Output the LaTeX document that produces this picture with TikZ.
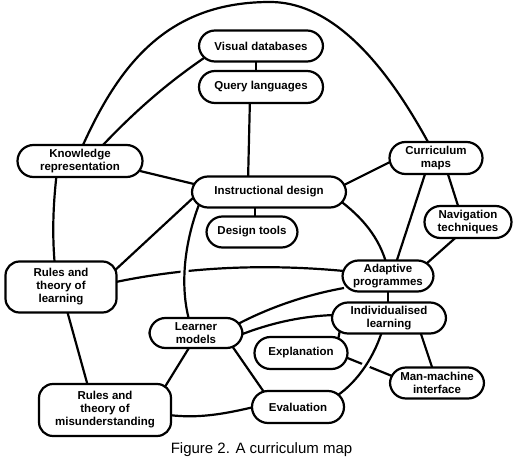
\documentclass[tikz,border=0pt]{standalone}
\usepackage{fontspec}
\setmainfont{Liberation Sans}
\usetikzlibrary{backgrounds,calc}
\begin{document}
\begin{tikzpicture}[x=1pt,y=-1pt,
  pill/.style={draw, line width=2.2pt, fill=white, rounded corners=16pt, inner sep=0pt, align=center,
    font=\fontsize{11.5}{13}\selectfont\bfseries},
  tallbox/.style={pill, rounded corners=14pt},
  conn/.style={line width=2.2pt},
  bridge/.style={conn, preaction={draw, white, line width=8pt}}]
\useasboundingbox (0,0) rectangle (520,457);

\node[pill, minimum width=124pt, minimum height=31pt] (vd) at (261,46) {Visual databases};
\node[pill, minimum width=124pt, minimum height=32pt] (ql) at (261,87) {Query languages};
\node[pill, minimum width=125pt, minimum height=32pt] (kr) at (80,161) {Knowledge\\representation};
\node[pill, minimum width=154pt, minimum height=31pt] (id) at (269,192) {Instructional design};
\node[pill, minimum width=91pt, minimum height=31pt] (dt) at (252,232) {Design tools};
\node[pill, minimum width=93pt, minimum height=32pt] (cm) at (436,158) {Curriculum\\maps};
\node[pill, minimum width=87pt, minimum height=32pt] (nt) at (468,222) {Navigation\\techniques};
\node[tallbox, minimum width=111pt, minimum height=51pt] (rl) at (61,287) {Rules and\\theory of\\learning};
\node[pill, minimum width=93pt, minimum height=30pt] (lm) at (196,333) {Learner\\models};
\node[tallbox, minimum width=132pt, minimum height=52pt] (rm) at (105,410) {Rules and\\theory of\\misunderstanding};
\node[pill, minimum width=91pt, minimum height=31pt] (ap) at (388,276) {Adaptive\\programmes};
\node[pill, minimum width=114pt, minimum height=31pt] (il) at (389,318) {Individualised\\learning};
\node[pill, minimum width=93pt, minimum height=32pt] (ex) at (301,353) {Explanation};
\node[pill, minimum width=94pt, minimum height=31pt] (mm) at (437,383) {Man-machine\\interface};
\node[pill, minimum width=92pt, minimum height=32pt] (ev) at (298,407) {Evaluation};
\node[anchor=base, font=\fontsize{15}{17}\selectfont] (cap) at (261.5,453) {Figure 2. A curriculum map};

\begin{scope}[on background layer]
\fill[white] (0,0) rectangle (520,457);
\draw[conn] ($(kr)+(3,-16)$) .. controls (121,61) and (170,2) .. (270,2)
   .. controls (340,2) and (394,80) .. ($(cm)+(-8,-16)$);
\draw[conn] ($(kr)+(23,-16)$) .. controls (140,106) and (172,80) .. ($(vd)+(-57,12)$);
\draw[conn] ($(vd)+(-5,10)$) -- ($(ql)+(-5,-10)$);
\draw[conn] ($(ql)+(-11,10)$) -- ($(id)+(-21,-10)$);
\draw[conn] ($(kr)+(60,10)$) -- ($(id)+(-75,-8)$);
\draw[conn] ($(kr)+(-23,10)$) .. controls (53,205) and (52,235) .. ($(rl)+(-6,-20)$);
\draw[conn] ($(rl)+(5,20)$) -- ($(rm)+(-16,-20)$);
\draw[conn] ($(id)+(75,-7)$) -- ($(cm)+(-46,4)$);
\draw[conn] ($(id)+(70,8)$) .. controls (362,217) and (380,238) .. ($(ap)+(-1,-10)$);
\draw[conn] ($(id)+(-14,10)$) -- ($(dt)+(3,-10)$);
\draw[conn] ($(id)+(-75,5)$) -- ($(rl)+(51,-14)$);
\draw[conn] ($(rl)+(50,-4)$) .. controls (190,266) and (270,264) .. ($(ap)+(-44,-5)$);
\draw[conn] ($(lm)+(40,-8)$) .. controls (268,308) and (305,295) .. ($(ap)+(-44,12)$);
\draw[conn] ($(lm)+(44,2)$) .. controls (268,324) and (300,316) .. ($(il)+(-54,-3)$);
\draw[conn] ($(lm)+(-4,10)$) -- ($(rm)+(58,-20)$);
\draw[conn] ($(lm)+(34,10)$) -- ($(ev)+(-32,-12)$);
\draw[conn] ($(rm)+(64,5)$) .. controls (200,419) and (228,413) .. ($(ev)+(-44,0)$);
\draw[conn] ($(ex)+(44,4)$) -- ($(mm)+(-45,-7)$);
\draw[conn] ($(il)+(-48,7)$) -- ($(ex)+(36,-8)$);
\draw[conn] ($(il)+(30,10)$) -- ($(mm)+(-3,-10)$);
\draw[conn] ($(ap)+(0,10)$) -- ($(il)+(-1,-10)$);
\draw[conn] ($(ap)+(7,-10)$) -- ($(cm)+(-9,10)$);
\draw[conn] ($(cm)+(10,10)$) -- ($(nt)+(-8,-10)$);
\draw[conn] ($(nt)+(-6,10)$) -- ($(ap)+(38,-12)$);
\draw[bridge] ($(id)+(-69,10)$) .. controls (183,245) and (180,290) .. ($(lm)+(-6,-10)$);
\draw[bridge] ($(ev)+(40,-12)$) .. controls (358,381) and (375,356) .. ($(il)+(-6,10)$);
\end{scope}
\end{tikzpicture}
\end{document}
